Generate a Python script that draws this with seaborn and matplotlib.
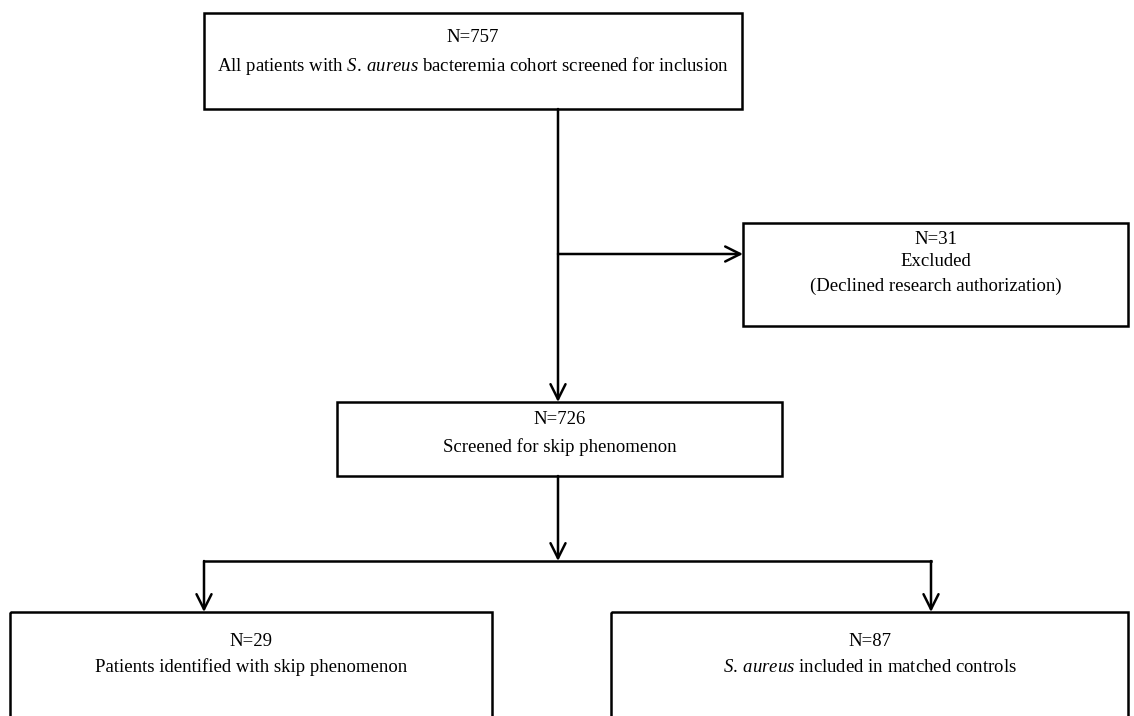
import matplotlib
matplotlib.use("Agg")
import matplotlib.pyplot as plt
from matplotlib.patches import Rectangle
import seaborn as sns

# Isi teks tiap kotak
top_lines = ["N=757", r"All patients with $\it{S.}\:\it{aureus}$ bacteremia cohort screened for inclusion"]
excl_lines = ["N=31", "Excluded", "(Declined research authorization)"]
mid_lines = ["N=726", "Screened for skip phenomenon"]
left_lines = ["N=29", "Patients identified with skip phenomenon"]
right_lines = ["N=87", r"$\it{S.}\:\it{aureus}$ included in matched controls"]

sns.set_theme(style="white")
plt.rcParams["font.family"] = ["Liberation Serif", "DejaVu Serif"]
plt.rcParams["mathtext.fontset"] = "custom"
plt.rcParams["mathtext.rm"] = "Liberation Serif"
plt.rcParams["mathtext.it"] = "Liberation Serif:italic"

fig = plt.figure(figsize=(11.34, 7.16), dpi=100)
ax = fig.add_axes([0, 0, 1, 1])
ax.set_xlim(0, 1134)
ax.set_ylim(716, 0)
ax.axis("off")

LW = 1.8
FS = 13.5


def kotak(x0, y0, x1, y1, lines, ys):
    ax.add_patch(Rectangle((x0, y0), x1 - x0, y1 - y0, fill=False,
                           edgecolor="black", linewidth=LW, zorder=2))
    cx = (x0 + x1) / 2
    for t, y in zip(lines, ys):
        ax.text(cx, y0 + y, t, ha="center", va="center", fontsize=FS, color="black")


def panah(x0, y0, x1, y1):
    ax.annotate("", xy=(x1, y1), xytext=(x0, y0),
                arrowprops=dict(arrowstyle="->,head_length=0.9,head_width=0.45",
                                color="black", lw=LW, shrinkA=0, shrinkB=0))


def garis(xs, ys):
    ax.plot(xs, ys, color="black", lw=LW, solid_capstyle="projecting")


# kotak-kotak
kotak(204, 13, 742, 109, top_lines, [25, 53])
kotak(743, 223, 1128, 326, excl_lines, [16, 39, 63])
kotak(337, 402, 782, 476, mid_lines, [18, 45])
kotak(10, 612, 492, 740, left_lines, [30, 55])
kotak(611, 612, 1128, 740, right_lines, [30, 55])

# panah
panah(558, 109, 558, 402)
panah(558, 254, 743, 254)
panah(558, 476, 558, 561)
garis([204, 931], [561, 561])
panah(204, 561, 204, 612)
panah(931, 561, 931, 612)

fig.savefig("out.png", dpi=100, facecolor="white")
